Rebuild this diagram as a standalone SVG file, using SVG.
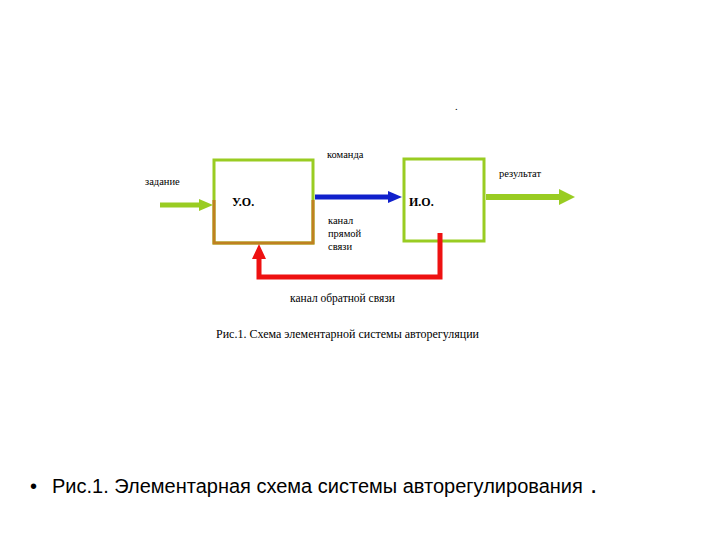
<svg xmlns="http://www.w3.org/2000/svg" width="720" height="540" viewBox="0 0 720 540">
<style>
.t{font-family:"Liberation Serif",serif;font-size:10.5px;fill:#000}
.b{font-family:"Liberation Serif",serif;font-size:12px;font-weight:bold;fill:#000}
.box{fill:#fff;stroke:#99cc22;stroke-width:3}
</style>
<rect width="720" height="540" fill="#fff"/>
<text class="t" x="455" y="110">.</text>
<g id="uo">
<rect class="box" x="214" y="160" width="99" height="83"/>
<path d="M214 200 V243 H313 V200" fill="none" stroke="#c08020" stroke-width="3"/>
<text class="b" x="232" y="206">У.О.</text>
</g>
<g id="io">
<rect class="box" x="404" y="159" width="80" height="82"/>
<text class="b" x="409" y="206">И.О.</text>
</g>
<g id="connectors">
<path d="M160 205 H200" stroke="#99cc22" stroke-width="5" fill="none"/>
<polygon points="199,199 213,205 199,211" fill="#99cc22"/>
<path d="M315 197 H390" stroke="#1020cc" stroke-width="5" fill="none"/>
<polygon points="388,191 402,197 388,203" fill="#1020cc"/>
<path d="M486 197 H560" stroke="#99cc22" stroke-width="6" fill="none"/>
<polygon points="559,189 575,197 559,205" fill="#99cc22"/>
<path d="M440 233 V277 H259 V258" stroke="#ee1111" stroke-width="5" fill="none"/>
<polygon points="252,259 259,244 266,259" fill="#ee1111"/>
</g>
<text class="t" x="327" y="158">команда</text>
<text class="t" x="145" y="185">задание</text>
<text class="t" x="499" y="177">результат</text>
<text class="t" x="328" y="224">канал</text>
<text class="t" x="328" y="237">прямой</text>
<text class="t" x="328" y="250">связи</text>
<text class="t" x="290" y="302" style="font-size:11.5px">канал обратной связи</text>
<text class="t" x="216" y="338" style="font-size:12px">Рис.1. Схема элементарной системы авторегуляции</text>
<text x="30" y="493" style="font-family:'Liberation Sans',sans-serif;font-size:20px">•</text>
<text x="52" y="493" style="font-family:'Liberation Sans',sans-serif;font-size:20px">Рис.1. Элементарная схема системы авторегулирования</text>
<text x="590" y="493" style="font-family:'Liberation Sans',sans-serif;font-size:26px">.</text>
</svg>
